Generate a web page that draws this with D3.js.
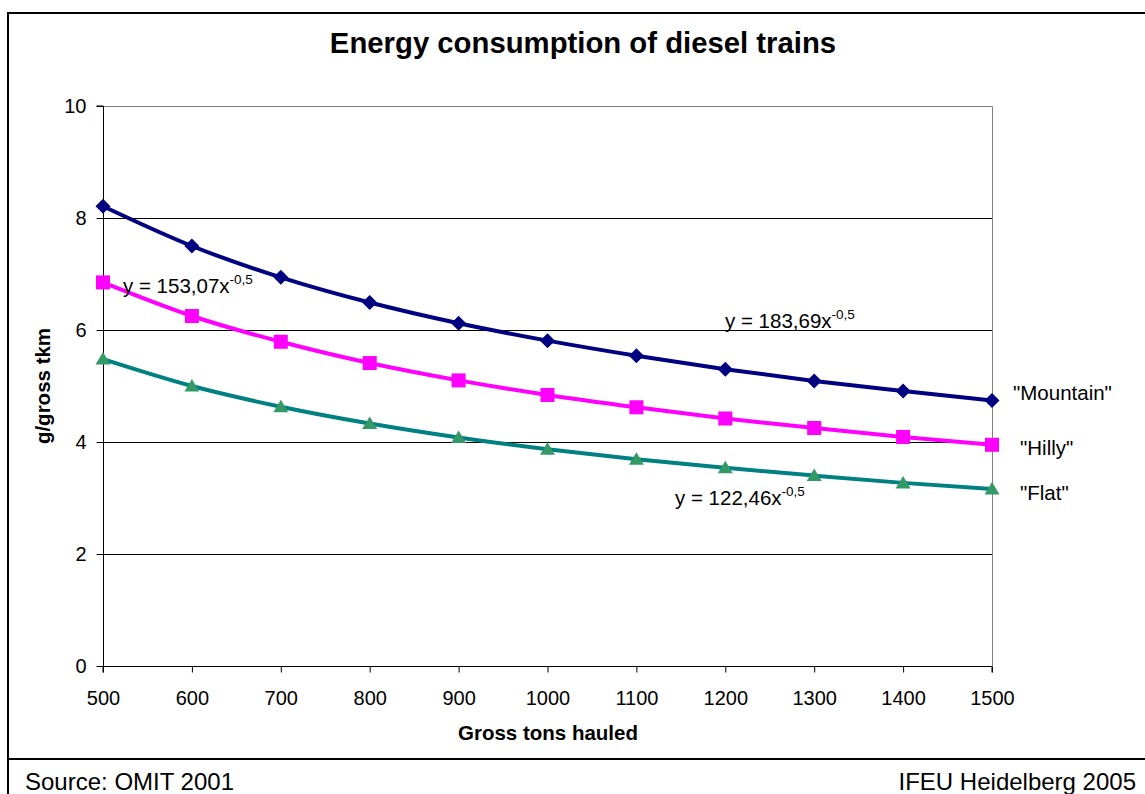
<!DOCTYPE html>
<html><head><meta charset="utf-8">
<script src="https://cdn.jsdelivr.net/npm/d3@7"></script>
<style>
body{margin:0;background:#fff;}
svg{display:block;font-family:Arial,"Liberation Sans",sans-serif;}
</style></head>
<body>
<svg id="c" width="1145" height="794"></svg>
<script>
const xValues = [500,600,700,800,900,1000,1100,1200,1300,1400,1500];
const xTicks = [500,600,700,800,900,1000,1100,1200,1300,1400,1500];
const yTicks = [0,2,4,6,8,10];
const mountain = [8.21,7.50,6.94,6.49,6.12,5.81,5.54,5.30,5.09,4.91,4.74];
const hilly = [6.85,6.25,5.79,5.41,5.10,4.84,4.62,4.42,4.25,4.09,3.95];
const flat = [5.48,5.00,4.63,4.33,4.08,3.87,3.69,3.54,3.40,3.27,3.16];
const seriesNames = ['"Mountain"','"Hilly"','"Flat"'];
const trendLabels = ["y = 183,69x","y = 153,07x","y = 122,46x"];
const trendExp = "-0,5";
const titleText = "Energy consumption of diesel trains";
const xLabel = "Gross tons hauled";
const yLabel = "g/gross tkm";
const sourceText = "Source: OMIT 2001";
const creditText = "IFEU Heidelberg 2005";

const FF = "Arial,'Liberation Sans',sans-serif";
const svg = d3.select("#c");
const L=103, R=992, T=106, B=666;
const x = d3.scaleLinear().domain([500,1500]).range([L,R]);
const y = d3.scaleLinear().domain([0,10]).range([B,T]);

// outer frame
svg.append("line").attr("x1",8).attr("x2",1145).attr("y1",13).attr("y2",13).attr("stroke","#000").attr("stroke-width",2);
svg.append("line").attr("x1",8).attr("x2",8).attr("y1",12).attr("y2",794).attr("stroke","#000").attr("stroke-width",2);
svg.append("line").attr("x1",8).attr("x2",1145).attr("y1",759).attr("y2",759).attr("stroke","#000").attr("stroke-width",2);

// title
svg.append("text").attr("x",583).attr("y",53).attr("text-anchor","middle")
  .attr("font-size",29.3).attr("font-weight","bold").text(titleText);

// gridlines
svg.append("g").selectAll("line").data(yTicks.filter(d=>d>0&&d<10)).join("line")
  .attr("x1",L).attr("x2",R).attr("y1",d=>Math.round(y(d))+0.5).attr("y2",d=>Math.round(y(d))+0.5)
  .attr("stroke","#000").attr("stroke-width",1);
// plot border top/right gray
svg.append("path").attr("d",`M${L},${T+0.5}H${R+0.5}V${B}`).attr("fill","none").attr("stroke","#808080").attr("stroke-width",1);

// axes
const yAxis = d3.axisLeft(y).tickValues(yTicks).tickSize(7).tickPadding(10).tickFormat(d3.format("d"));
const gy = svg.append("g").attr("transform",`translate(${L+0.5},0)`).call(yAxis);
const xAxis = d3.axisBottom(x).tickValues(xTicks).tickSize(6).tickPadding(18).tickFormat(d3.format("d"));
const gx = svg.append("g").attr("transform",`translate(0,${B+0.5})`).call(xAxis);
[gx,gy].forEach(g=>{
  g.select(".domain").attr("stroke","#000");
  g.selectAll(".tick line").attr("stroke","#000");
  g.selectAll("text").attr("font-size",20).attr("font-family",FF).attr("fill","#000");
});
gy.select(".domain").attr("d",`M-7,${T}H0V${B}`);
gx.select(".domain").attr("d",`M${L},6V0H${R}V6`);

// axis labels
svg.append("text").attr("x",548).attr("y",740).attr("text-anchor","middle").attr("font-size",20.5).attr("font-weight","bold").text(xLabel);
svg.append("text").attr("transform","translate(50,386) rotate(-90)").attr("text-anchor","middle").attr("font-size",20.5).attr("font-weight","bold").text(yLabel);

const series = [
  {vals:mountain, line:"#000080", mark:"#000080", shape:"diamond"},
  {vals:hilly, line:"#FF00FF", mark:"#FF00FF", shape:"square"},
  {vals:flat, line:"#008080", mark:"#339966", shape:"triangle"},
];
const lineGen = d3.line().x(d=>x(d[0])).y(d=>y(d[1])).curve(d3.curveMonotoneX);

series.forEach(s=>{
  const pts = xValues.map((xv,i)=>[xv,s.vals[i]]);
  svg.append("path").datum(pts).attr("d",lineGen).attr("fill","none").attr("stroke",s.line).attr("stroke-width",4);
});
series.forEach(s=>{
  const pts = xValues.map((xv,i)=>[xv,s.vals[i]]);
  const g = svg.append("g");
  pts.forEach(p=>{
    const cx=x(p[0]), cy=y(p[1]);
    if(s.shape==="diamond"){
      g.append("path").attr("d",`M${cx},${cy-7.5}L${cx+7.5},${cy}L${cx},${cy+7.5}L${cx-7.5},${cy}Z`).attr("fill",s.mark);
    } else if(s.shape==="square"){
      g.append("rect").attr("x",cx-7).attr("y",cy-7).attr("width",14).attr("height",14).attr("fill",s.mark);
    } else {
      g.append("path").attr("d",`M${cx},${cy-7}L${cx+7.5},${cy+5.5}L${cx-7.5},${cy+5.5}Z`).attr("fill",s.mark);
    }
  });
});

// trendline equations
const eqPos = [[725,328],[123,293],[675,505]];
trendLabels.forEach((t,i)=>{
  const tx = svg.append("text").attr("x",eqPos[i][0]).attr("y",eqPos[i][1]).attr("font-size",20.5);
  tx.append("tspan").text(t);
  tx.append("tspan").attr("font-size",13.5).attr("dy",-9).text(trendExp);
});

// series labels
const labPos = [[1013,400],[1020,455],[1020,500]];
seriesNames.forEach((n,i)=>{
  svg.append("text").attr("x",labPos[i][0]).attr("y",labPos[i][1]).attr("font-size",20.5).text(n);
});

// footer
svg.append("text").attr("x",25).attr("y",790).attr("font-size",24).text(sourceText);
svg.append("text").attr("x",1136).attr("y",790).attr("text-anchor","end").attr("font-size",24).text(creditText);
</script>
</body></html>
